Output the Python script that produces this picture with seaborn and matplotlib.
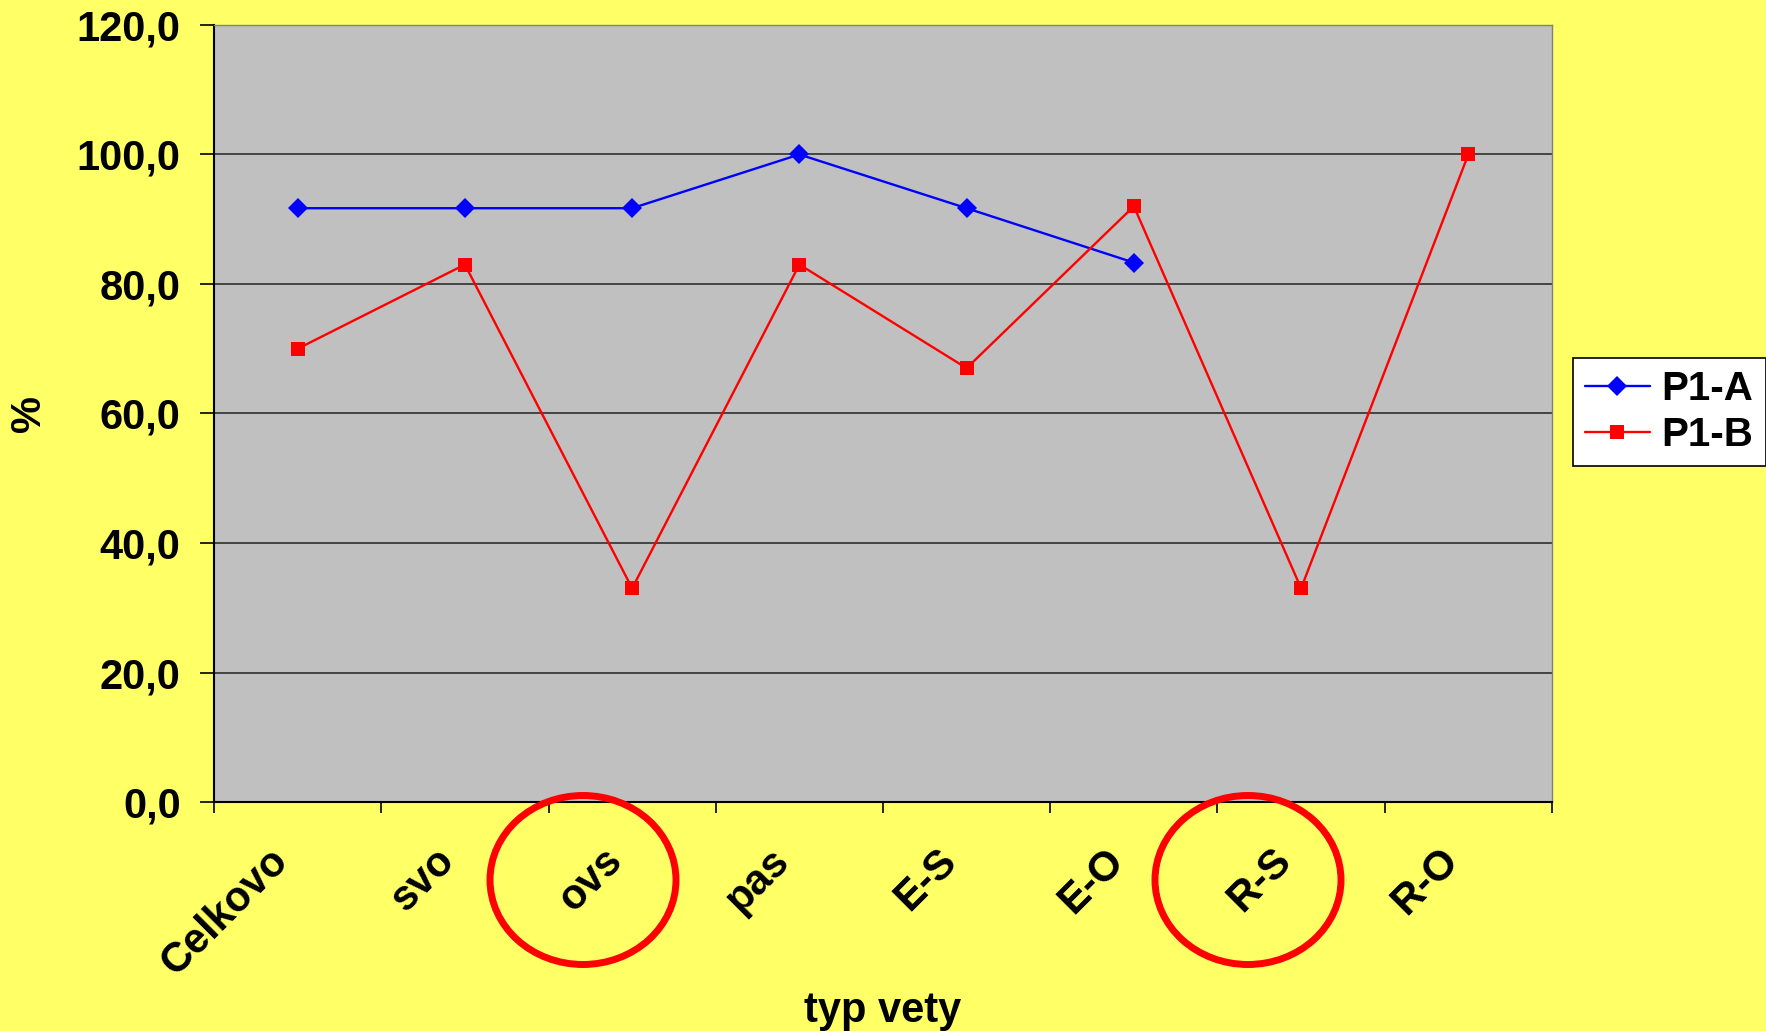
import numpy as np
import pandas as pd
import seaborn as sns
from matplotlib import pyplot as plt
from matplotlib.patches import Ellipse
from matplotlib.transforms import ScaledTranslation

categories = ['Celkovo', 'svo', 'ovs', 'pas', 'E-S', 'E-O', 'R-S', 'R-O']
p1_a = [91.7, 91.7, 91.7, 100.0, 91.7, 83.3, np.nan, np.nan]
p1_b = [70.0, 83.0, 33.0, 83.0, 67.0, 92.0, 33.0, 100.0]
y_ticks = [0, 20, 40, 60, 80, 100, 120]
y_tick_labels = ['0,0', '20,0', '40,0', '60,0', '80,0', '100,0', '120,0']

df_ = pd.DataFrame({'typ vety': categories * 2,
                    '%': p1_a + p1_b,
                    'serie': ['P1-A'] * len(categories) + ['P1-B'] * len(categories)})

sns.set_style('white')
plt.rcParams['font.family'] = ['Liberation Sans', 'DejaVu Sans']
plt.rcParams['font.weight'] = 'bold'
for key in ['text.color', 'axes.labelcolor', 'xtick.color', 'ytick.color']:
    plt.rcParams[key] = 'black'

yellow = '#FFFF66'
figure = plt.figure(figsize=(17.66, 10.31), dpi=100, facecolor=yellow)
ax = figure.add_axes([0.1212, 0.2221, 0.7576, 0.7537])
ax.set_facecolor('#C0C0C0')

sns.lineplot(data=df_, x='typ vety', y='%', hue='serie', style='serie',
             palette={'P1-A': '#0000FF', 'P1-B': '#FF0000'},
             markers={'P1-A': 'D', 'P1-B': 's'}, dashes=False,
             linewidth=1.7, ax=ax, sort=False)

for line in ax.get_lines():
    line.set_markeredgecolor(line.get_color())
    line.set_markeredgewidth(0)
    if line.get_marker() == 'D':
        line.set_markersize(10.5)
    else:
        line.set_markersize(10)

ax.set_xlim(-0.5, len(categories) - 0.5)
ax.set_ylim(0, 120)
ax.set_yticks(y_ticks)
ax.set_yticklabels(y_tick_labels)
ax.yaxis.grid(True, color='#3a3a3a', linewidth=1.3)
ax.set_axisbelow(True)

# category labels in the middle, ticks on the boundaries
ax.set_xticks(range(len(categories)))
ax.set_xticklabels(categories, rotation=45, ha='right', va='center',
                   rotation_mode='anchor')
ax.set_xticks(np.arange(-0.5, len(categories)), minor=True)
ax.tick_params(axis='x', which='major', length=0, pad=38, labelsize=30)
ax.tick_params(axis='x', which='minor', length=8, width=1.2, color='black',
               direction='out', bottom=True)
ax.tick_params(axis='y', length=10, width=1.2, color='black', direction='out',
               left=True, pad=14, labelsize=30)
shift = ScaledTranslation(-0.16, 0, figure.dpi_scale_trans)
for lab in ax.get_xticklabels():
    lab.set_transform(lab.get_transform() + shift)

for side in ['top', 'right']:
    ax.spines[side].set_color('#808080')
    ax.spines[side].set_linewidth(1.0)
for side in ['left', 'bottom']:
    ax.spines[side].set_color('black')
    ax.spines[side].set_linewidth(1.5)

ax.set_xlabel('typ vety', fontsize=30, fontweight='bold')
ax.xaxis.set_label_coords(0.5, -0.243)
ax.set_ylabel('%', fontsize=30, fontweight='bold')
ax.yaxis.set_label_coords(-0.123, 0.5)

handles, labels = ax.get_legend_handles_labels()
ax.legend(handles, labels, loc='center left',
          bbox_to_anchor=(1573 / 1766, 1 - 412 / 1031),
          bbox_transform=figure.transFigure, fontsize=29,
          frameon=True, fancybox=False, edgecolor='black', facecolor='white',
          framealpha=1, handlelength=1.6, handletextpad=0.3,
          borderpad=0.3, labelspacing=0.2, borderaxespad=0)
ax.get_legend().get_frame().set_linewidth(1.2)

# red circles round the highlighted labels
for cx in [583, 1248]:
    figure.add_artist(Ellipse((cx / 1766, 1 - 880 / 1031), 186 / 1766, 169 / 1031,
                              transform=figure.transFigure, fill=False,
                              edgecolor='#FF0000', linewidth=5))

plt.savefig('out.png', dpi=100, facecolor=yellow)
